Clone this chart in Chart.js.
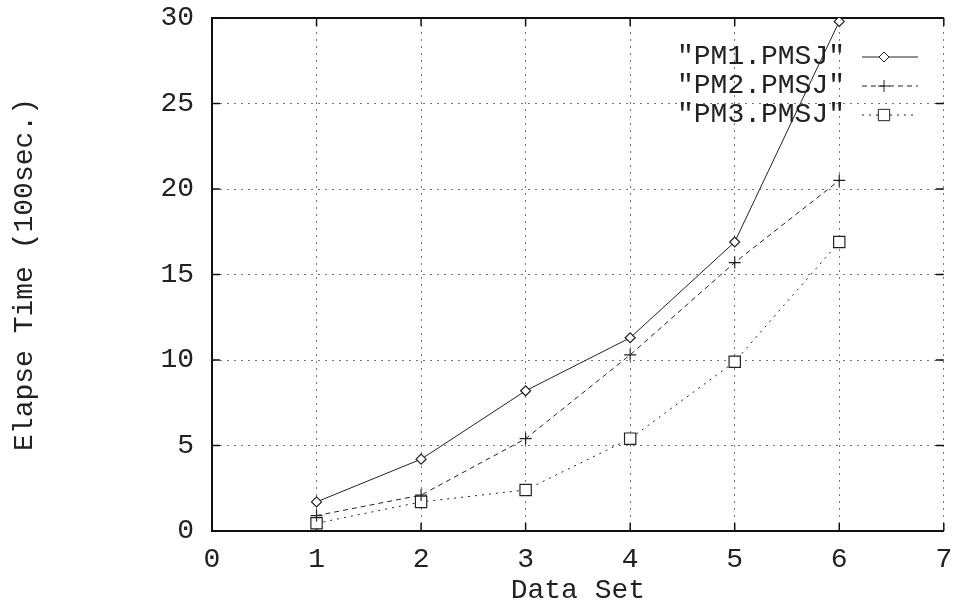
<!DOCTYPE html>
<html>
<head>
<meta charset="utf-8">
<title>Elapse Time per Data Set</title>
<script src="https://cdn.jsdelivr.net/npm/chart.js@4.4.1/dist/chart.umd.min.js"></script>
<style>
  html, body { margin: 0; padding: 0; background: #fff; }
  #wrap { width: 953px; height: 611px; }
</style>
</head>
<body>
<div id="wrap"><canvas id="chart"></canvas></div>
<script>
// Measured elapse times (units of 100 sec.) for each data set
const dataSets = [1, 2, 3, 4, 5, 6];
const pm1Times = [1.7, 4.2, 8.2, 11.3, 16.9, 29.8];
const pm2Times = [0.9, 2.1, 5.4, 10.3, 15.7, 20.5];
const pm3Times = [0.45, 1.7, 2.4, 5.4, 9.9, 16.9];
const seriesNames = ['"PM1.PMSJ"', '"PM2.PMSJ"', '"PM3.PMSJ"'];

const FONT = "'Liberation Mono', 'DejaVu Sans Mono', monospace";
const FONT_SIZE = 28;
const INK = '#222';

function toPoints(values) {
    return dataSets.map((x, i) => ({ x: x, y: values[i] }));
}

// Legend drawn inside the plot: label on the left, line sample on the right
const keyPlugin = {
    id: 'key',
    afterDatasetsDraw(chart) {
        const ctx = chart.ctx;
        ctx.save();
        ctx.font = FONT_SIZE + 'px ' + FONT;
        ctx.textAlign = 'right';
        ctx.textBaseline = 'middle';
        chart.data.datasets.forEach((ds, i) => {
            const y = 57 + i * 29;
            ctx.fillStyle = INK;
            ctx.fillText(ds.label, 845, y);
            ctx.strokeStyle = ds.borderColor;
            ctx.lineWidth = 1;
            ctx.setLineDash(ds.borderDash || []);
            ctx.beginPath();
            ctx.moveTo(862, y);
            ctx.lineTo(918, y);
            ctx.stroke();
            ctx.setLineDash([]);
            ctx.fillStyle = '#fff';
            Chart.helpers.drawPoint(ctx, {
                pointStyle: ds.pointStyle,
                radius: ds.pointRadius,
                borderWidth: 1
            }, 884, y);
        });
        ctx.restore();
    }
};

// Top border plus small inward tick marks on all four sides
const framePlugin = {
    id: 'frame',
    beforeDatasetsDraw(chart) {
        const { ctx, chartArea: a, scales } = chart;
        ctx.save();
        ctx.strokeStyle = '#111';
        ctx.lineWidth = 2;
        ctx.beginPath();
        ctx.moveTo(a.left, a.top);
        ctx.lineTo(a.right, a.top);
        ctx.stroke();
        ctx.lineWidth = 1.5;
        ctx.beginPath();
        scales.x.ticks.forEach(t => {
            const px = scales.x.getPixelForValue(t.value);
            ctx.moveTo(px, a.bottom);
            ctx.lineTo(px, a.bottom - 8);
            ctx.moveTo(px, a.top);
            ctx.lineTo(px, a.top + 8);
        });
        scales.y.ticks.forEach(t => {
            const py = scales.y.getPixelForValue(t.value);
            ctx.moveTo(a.left, py);
            ctx.lineTo(a.left + 8, py);
            ctx.moveTo(a.right, py);
            ctx.lineTo(a.right - 8, py);
        });
        ctx.stroke();
        ctx.restore();
    }
};

const styles = [
    { dash: [], point: 'rectRot', radius: 5 },
    { dash: [5, 4], point: 'cross', radius: 6 },
    { dash: [2, 5], point: 'rect', radius: 8 }
];

const datasets = [pm1Times, pm2Times, pm3Times].map((vals, i) => ({
    label: seriesNames[i],
    data: toPoints(vals),
    borderColor: INK,
    backgroundColor: 'rgba(0,0,0,0)',
    borderWidth: 1,
    borderDash: styles[i].dash,
    pointStyle: styles[i].point,
    pointRadius: styles[i].radius,
    pointBorderColor: INK,
    pointBackgroundColor: '#fff',
    pointBorderWidth: 1.2,
    tension: 0
}));

const tickFont = { family: FONT, size: FONT_SIZE };

new Chart(document.getElementById('chart'), {
    type: 'line',
    data: { datasets: datasets },
    options: {
        responsive: true,
        maintainAspectRatio: false,
        animation: false,
        layout: { padding: { top: 18, right: 9, left: 0, bottom: 0 } },
        plugins: {
            legend: { display: false },
            tooltip: { enabled: false }
        },
        scales: {
            x: {
                type: 'linear',
                min: 0,
                max: 7,
                afterFit: s => {
                    s.height = 80;
                    s.paddingLeft = 0;
                    s.paddingRight = 0;
                },
                ticks: {
                    stepSize: 1,
                    padding: 12,
                    color: INK,
                    font: tickFont
                },
                grid: {
                    drawTicks: false,
                    color: '#777',
                    lineWidth: 1
                },
                border: { display: true, color: '#111', width: 2, dash: [2, 5] },
                title: {
                    display: true,
                    text: 'Data Set',
                    color: INK,
                    padding: { top: 0, bottom: 4 },
                    font: tickFont
                }
            },
            y: {
                min: 0,
                max: 30,
                afterFit: s => {
                    s.width = 212;
                    s.paddingTop = 0;
                    s.paddingBottom = 0;
                },
                ticks: {
                    stepSize: 5,
                    padding: 18,
                    color: INK,
                    font: tickFont
                },
                grid: {
                    drawTicks: false,
                    color: '#777',
                    lineWidth: 1
                },
                border: { display: true, color: '#111', width: 2, dash: [2, 5] },
                title: {
                    display: true,
                    text: 'Elapse Time (100sec.)',
                    color: INK,
                    padding: { top: 8, bottom: 0 },
                    font: tickFont
                }
            }
        }
    },
    plugins: [framePlugin, keyPlugin]
});
</script>
</body>
</html>
